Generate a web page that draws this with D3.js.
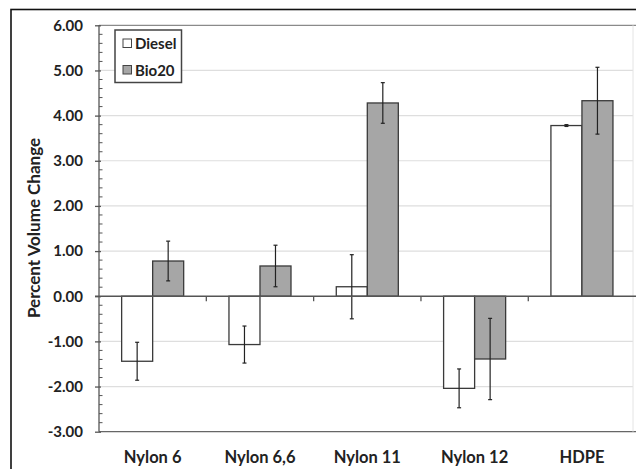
<!DOCTYPE html>
<html>
<head>
<meta charset="utf-8">
<script src="https://cdn.jsdelivr.net/npm/d3@7"></script>
<style>
  body { margin: 0; background: #fff; }
  svg { display: block; font-family: Lato, "Open Sans", sans-serif; }
  .tick text { font-weight: bold; }
</style>
</head>
<body>
<div id="chart"></div>
<script>
// data
const categories = ["Nylon 6", "Nylon 6,6", "Nylon 11", "Nylon 12", "HDPE"];
const series = ["Diesel", "Bio20"];
const diesel    = [-1.44, -1.07, 0.21, -2.04, 3.78];
const dieselErr = [0.42, 0.41, 0.71, 0.43, 0.02];
const bio20     = [0.78, 0.67, 4.28, -1.39, 4.33];
const bio20Err  = [0.44, 0.46, 0.45, 0.90, 0.74];
const yTicks = [-3, -2, -1, 0, 1, 2, 3, 4, 5, 6];

const width = 636, height = 469;
const fills = { Diesel: "#ffffff", Bio20: "#a6a6a6" };

const svg = d3.select("#chart").append("svg")
  .attr("width", width)
  .attr("height", height);

// outer frame (right and bottom sides fall outside the picture)
svg.append("rect")
  .attr("x", 11).attr("y", 9.5)
  .attr("width", 700).attr("height", 600)
  .attr("fill", "none").attr("stroke", "#111").attr("stroke-width", 1.6);

const x0 = d3.scaleBand().domain(categories).range([99, 635.6]).paddingInner(0);
const x1 = d3.scaleBand().domain(series).range([0, x0.bandwidth()]).paddingInner(0).paddingOuter(0.73);
const y = d3.scaleLinear().domain([-3, 6]).range([431.7, 25.3]);

const plotRight = 633;

// gridlines
svg.append("g")
  .selectAll("line")
  .data(yTicks.filter(d => d !== 0 && d !== 6 && d !== -3))
  .join("line")
  .attr("x1", 99).attr("x2", plotRight)
  .attr("y1", d => y(d)).attr("y2", d => y(d))
  .attr("stroke", "#dedede").attr("stroke-width", 1.2);

// plot area border
svg.append("line")
  .attr("x1", 99).attr("x2", width).attr("y1", y(6)).attr("y2", y(6))
  .attr("stroke", "#8a8a8a").attr("stroke-width", 1.3);
svg.append("line")
  .attr("x1", 99).attr("x2", width).attr("y1", y(-3)).attr("y2", y(-3))
  .attr("stroke", "#666").attr("stroke-width", 1.3);
svg.append("line")
  .attr("x1", plotRight).attr("x2", plotRight).attr("y1", y(6)).attr("y2", y(-3))
  .attr("stroke", "#e4e4e4").attr("stroke-width", 1);

// bars
const rows = categories.map((c, i) => [
  { cat: c, key: "Diesel", value: diesel[i], err: dieselErr[i] },
  { cat: c, key: "Bio20", value: bio20[i], err: bio20Err[i] }
]).flat();

svg.append("g")
  .selectAll("rect")
  .data(rows)
  .join("rect")
  .attr("x", d => x0(d.cat) + x1(d.key))
  .attr("width", x1.bandwidth())
  .attr("y", d => y(Math.max(0, d.value)))
  .attr("height", d => Math.abs(y(d.value) - y(0)))
  .attr("fill", d => fills[d.key])
  .attr("stroke", "#3a3a3a")
  .attr("stroke-width", 1.3);

// error bars
const eb = svg.append("g").attr("stroke", "#222").attr("stroke-width", 1.2);
const cx = d => x0(d.cat) + x1(d.key) + x1.bandwidth() / 2;
eb.selectAll("line.stem")
  .data(rows)
  .join("line")
  .attr("class", "stem")
  .attr("x1", cx).attr("x2", cx)
  .attr("y1", d => y(d.value + d.err))
  .attr("y2", d => y(d.value - d.err));
eb.selectAll("line.capTop")
  .data(rows)
  .join("line")
  .attr("class", "capTop")
  .attr("x1", d => cx(d) - 2).attr("x2", d => cx(d) + 2)
  .attr("y1", d => y(d.value + d.err)).attr("y2", d => y(d.value + d.err));
eb.selectAll("line.capBot")
  .data(rows)
  .join("line")
  .attr("class", "capBot")
  .attr("x1", d => cx(d) - 2).attr("x2", d => cx(d) + 2)
  .attr("y1", d => y(d.value - d.err)).attr("y2", d => y(d.value - d.err));

// zero axis with category ticks
svg.append("line")
  .attr("x1", 95).attr("x2", width).attr("y1", y(0)).attr("y2", y(0))
  .attr("stroke", "#555").attr("stroke-width", 1.3);
svg.append("g")
  .selectAll("line")
  .data(categories.slice(1))
  .join("line")
  .attr("x1", d => x0(d)).attr("x2", d => x0(d))
  .attr("y1", y(0)).attr("y2", y(0) + 5)
  .attr("stroke", "#555").attr("stroke-width", 1.3);

// y axis
const fmt = d3.format(".2f");
const yAxis = d3.axisLeft(y)
  .tickValues(yTicks)
  .tickFormat(d => fmt(d).replace("\u2212", "-"))
  .tickSize(4)
  .tickPadding(12);
const gy = svg.append("g")
  .attr("transform", "translate(99,0)")
  .call(yAxis);
gy.select(".domain").remove();
gy.selectAll(".tick line").attr("x2", -4).attr("x1", 2).attr("stroke", "#555").attr("stroke-width", 1.3);
gy.selectAll(".tick text")
  .attr("font-size", 15)
  .attr("font-family", "Lato, sans-serif")
  .attr("fill", "#222");
svg.append("line")
  .attr("x1", 99).attr("x2", 99).attr("y1", y(6)).attr("y2", y(-3))
  .attr("stroke", "#555").attr("stroke-width", 1.3);

// minor ticks every 0.2
const minor = d3.range(-3, 6.001, 0.2).filter(v => Math.abs(v - Math.round(v)) > 0.01);
svg.append("g")
  .selectAll("line")
  .data(minor)
  .join("line")
  .attr("x1", 99).attr("x2", 102.5)
  .attr("y1", d => y(d)).attr("y2", d => y(d))
  .attr("stroke", "#555").attr("stroke-width", 1);

// category labels
svg.append("g")
  .selectAll("text")
  .data(categories)
  .join("text")
  .attr("x", d => x0(d) + x0.bandwidth() / 2)
  .attr("y", 462.5)
  .attr("text-anchor", "middle")
  .attr("font-size", 16.5)
  .attr("font-weight", "bold")
  .attr("fill", "#222")
  .text(d => d);

// y axis title
svg.append("text")
  .attr("transform", "translate(40,228) rotate(-90)")
  .attr("text-anchor", "middle")
  .attr("font-size", 17)
  .attr("font-weight", "bold")
  .attr("fill", "#222")
  .text("Percent Volume Change");

// legend
const legend = svg.append("g");
legend.append("rect")
  .attr("x", 115).attr("y", 30)
  .attr("width", 66.5).attr("height", 52.5)
  .attr("fill", "#fff").attr("stroke", "#444").attr("stroke-width", 1.5);
const li = legend.selectAll("g.item")
  .data(series)
  .join("g")
  .attr("class", "item")
  .attr("transform", (d, i) => `translate(123,${43.5 + i * 26.5})`);
li.append("rect")
  .attr("x", 0).attr("y", -4.5)
  .attr("width", 8.5).attr("height", 8.5)
  .attr("fill", d => fills[d])
  .attr("stroke", "#444").attr("stroke-width", 1);
li.append("text")
  .attr("x", 12).attr("y", 5.5)
  .attr("font-size", 15)
  .attr("font-weight", "bold")
  .attr("fill", "#222")
  .text(d => d);
</script>
</body>
</html>
